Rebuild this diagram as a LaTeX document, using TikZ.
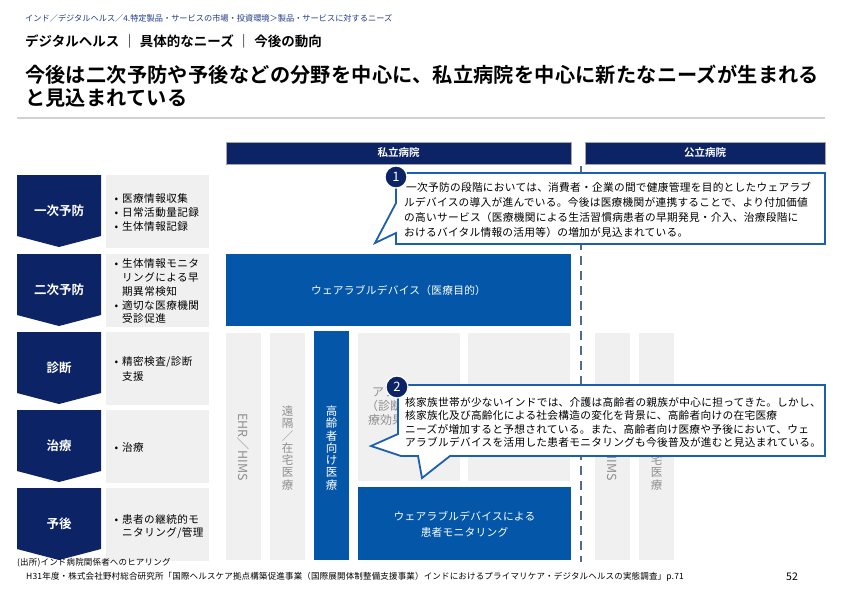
\documentclass[tikz,border=0pt]{standalone}
\usepackage{fontspec}
\setmainfont{Noto Sans CJK JP}[BoldFont={Noto Sans CJK JP Bold}]
\definecolor{navy}{HTML}{0C2366}
\definecolor{mblue}{HTML}{0457A8}
\definecolor{lgray}{HTML}{F0F0F0}
\definecolor{gtext}{HTML}{8F8F8F}
\definecolor{dashc}{HTML}{4F6E8E}
\definecolor{cborder}{HTML}{1C5FB0}
\definecolor{crumb}{HTML}{1E3A8C}
\newcommand{\fs}[2]{\fontsize{#1}{#2}\selectfont}
\newcommand{\lsp}[1]{\addfontfeatures{LetterSpace=#1}}
\begin{document}
\begin{tikzpicture}[x=1pt,y=-1pt,
  txt/.style={inner sep=0pt, anchor=west},
  lst/.style={txt, font=\fs{10.6}{12}\lsp{4}},
  chevtxt/.style={inner sep=0pt, text=white, font=\fs{12.5}{14}\bfseries},
  hdr/.style={inner sep=0pt, text=white, font=\fs{10.5}{12}\bfseries},
  coltxt/.style={inner sep=0pt, align=center, font=\fs{11.5}{12.3}},
  ctext/.style={txt, font=\fs{10.7}{12}\lsp{2.5}},
  callout/.style={fill=white, draw=cborder, line width=1.8pt, line join=miter},
  badge/.style={circle, fill=navy, draw=white, line width=1.2pt, minimum size=22pt, inner sep=0pt, text=white, font=\fs{13}{14}}
]
\useasboundingbox (0,0) rectangle (842,595);
\fill[white] (0,0) rectangle (842,595);

% header texts
\node[txt, text=crumb, font=\fs{8.2}{10}] (crumb) at (25,18) {インド／デジタルヘルス／4.特定製品・サービスの市場・投資環境＞製品・サービスに対するニーズ};
\node[txt, font=\fs{13.5}{15}\bfseries] (sub) at (25,41) {デジタルヘルス\hspace{3.5pt}｜\hspace{3.5pt}具体的なニーズ\hspace{3.5pt}｜\hspace{3.5pt}今後の動向};
\node[txt, font=\fs{20.2}{24}\bfseries\lsp{1}] (t1) at (25,75) {今後は二次予防や予後などの分野を中心に、私立病院を中心に新たなニーズが生まれる};
\node[txt, font=\fs{20.2}{24}\bfseries\lsp{1}] (t2) at (25,98) {と見込まれている};
\draw[line width=1.5pt, black!18] (17,118) -- (825,118);

% hospital headers
\fill[navy, draw=black!35, line width=0.6pt] (226,142) rectangle (571,164);
\fill[navy, draw=black!35, line width=0.6pt] (585,142) rectangle (825,164);
\node[hdr] (priv) at (398.5,153) {私立病院};
\node[hdr] (pub) at (705,153) {公立病院};

% rows
\foreach \tp/\lbl [count=\i] in {175/一次予防, 254/二次予防, 332/診断, 410/治療, 488/予後} {
  \fill[navy] (17,\tp) -- (101,\tp) -- (101,\tp+61) -- (59,\tp+72) -- (17,\tp+61) -- cycle;
  \fill[lgray] (106,\tp) rectangle (209,\tp+73);
  \node[chevtxt] (chev\i) at (59,\tp+36) {\lbl};
}

% lists
\node[lst] (l1a) at (122,198) {\llap{•\hspace{4pt}}医療情報収集};
\node[lst] (l1b) at (122,212) {\llap{•\hspace{4pt}}日常活動量記録};
\node[lst] (l1c) at (122,226) {\llap{•\hspace{4pt}}生体情報記録};
\node[lst] (l2a) at (122,263) {\llap{•\hspace{4pt}}生体情報モニタ};
\node[lst] (l2b) at (122,277) {リングによる早};
\node[lst] (l2c) at (122,291) {期異常検知};
\node[lst] (l2d) at (122,305) {\llap{•\hspace{4pt}}適切な医療機関};
\node[lst] (l2e) at (122,318) {受診促進};
\node[lst] (l3a) at (122,362) {\llap{•\hspace{4pt}}精密検査/診断};
\node[lst] (l3b) at (122,376) {支援};
\node[lst] (l4a) at (122,447) {\llap{•\hspace{4pt}}治療};
\node[lst] (l5a) at (122,519) {\llap{•\hspace{4pt}}患者の継続的モ};
\node[lst] (l5b) at (122,533) {ニタリング/管理};

% private hospital area
\fill[mblue] (226,254) rectangle (571,326);
\node[inner sep=0pt, text=white, font=\fs{10.7}{12}\lsp{2.5}] (wear) at (398.5,290) {ウェアラブルデバイス（医療目的）};

\fill[lgray] (226,333) rectangle (261,560);
\fill[lgray] (270,333) rectangle (305,560);
\fill[mblue] (314,331) rectangle (349,560);
\fill[lgray] (358,333) rectangle (460,481);
\fill[lgray] (468,333) rectangle (570,481);
\fill[mblue] (358,487) rectangle (571,560);

\node[inner sep=0pt, rotate=-90, text=gtext, font=\fs{12.5}{14}] (ehrL) at (243,447) {EHR／HIMS};
\node[coltxt, text=gtext] (remL) at (287.5,448) {遠\\隔\\／\\在\\宅\\医\\療};
\node[coltxt, text=white] (eld) at (331.5,448) {高\\齢\\者\\向\\け\\医\\療};
\node[txt, text=gtext, font=\fs{12}{13}] (h1) at (372,392) {アプリ};
\node[txt, text=gtext, font=\fs{12}{13}] (h2) at (366,406) {（診断支援};
\node[txt, text=gtext, font=\fs{12}{13}] (h3) at (368,420) {療効果};

\node[inner sep=0pt, text=white, align=center, font=\fs{10.7}{15.5}\lsp{2.5}] (mon) at (464.5,524.5) {ウェアラブルデバイスによる\\患者モニタリング};

% public hospital area
\fill[lgray] (595,333) rectangle (630,560);
\fill[lgray] (639,333) rectangle (674,560);
\node[inner sep=0pt, rotate=-90, text=gtext, font=\fs{12.5}{14}] (ehrR) at (612.5,447) {EHR／HIMS};
\node[coltxt, text=gtext] (remR) at (656.5,448) {遠\\隔\\／\\在\\宅\\医\\療};

% divider
\coordinate (dtop) at (581,166);
\coordinate (dbot) at (581,562);
\draw[dashc, line width=2pt, dash pattern=on 9pt off 6pt] (dtop) -- (dbot);

% callout 1
\draw[callout] (396,173) -- (825,173) -- (825,244) -- (396,244) -- (396,233) -- (375,243) -- (396,203) -- cycle;
\node[badge] (b1) at (396,177) {1};
\node[ctext] (c1a) at (406,187) {一次予防の段階においては、消費者・企業の間で健康管理を目的としたウェアラブ};
\node[ctext] (c1b) at (404,202) {ルデバイスの導入が進んでいる。今後は医療機関が連携することで、より付加価値};
\node[ctext] (c1c) at (404,217.5) {の高いサービス（医療機関による生活習慣病患者の早期発見・介入、治療段階に};
\node[ctext] (c1d) at (404,232.5) {おけるバイタル情報の活用等）の増加が見込まれている。};

% callout 2
\draw[callout] (398,385) -- (825,385) -- (825,456) -- (450,456) -- (422,478) -- (418,456) -- (401,456) -- (371,446) -- (398,434) -- cycle;
\node[badge] (b2) at (397,387) {2};
\node[ctext] (c2a) at (405,402) {核家族世帯が少ないインドでは、介護は高齢者の親族が中心に担ってきた。しかし、};
\node[ctext] (c2b) at (405,415.5) {核家族化及び高齢化による社会構造の変化を背景に、高齢者向けの在宅医療};
\node[ctext] (c2c) at (405,429) {ニーズが増加すると予想されている。また、高齢者向け医療や予後において、ウェ};
\node[ctext] (c2d) at (405,442.5) {アラブルデバイスを活用した患者モニタリングも今後普及が進むと見込まれている。};

% footer
\node[txt, font=\fs{8.5}{10}\lsp{2}] (src1) at (17,563) {(出所)インド病院関係者へのヒアリング};
\node[txt, font=\fs{8.5}{10}\lsp{2}] (src2) at (26,577) {H31年度・株式会社野村総合研究所「国際ヘルスケア拠点構築促進事業（国際展開体制整備支援事業）インドにおけるプライマリケア・デジタルヘルスの実態調査」p.71};
\node[inner sep=0pt, font=\fs{10.5}{12}] (pg) at (792,577) {52};
\end{tikzpicture}
\end{document}
